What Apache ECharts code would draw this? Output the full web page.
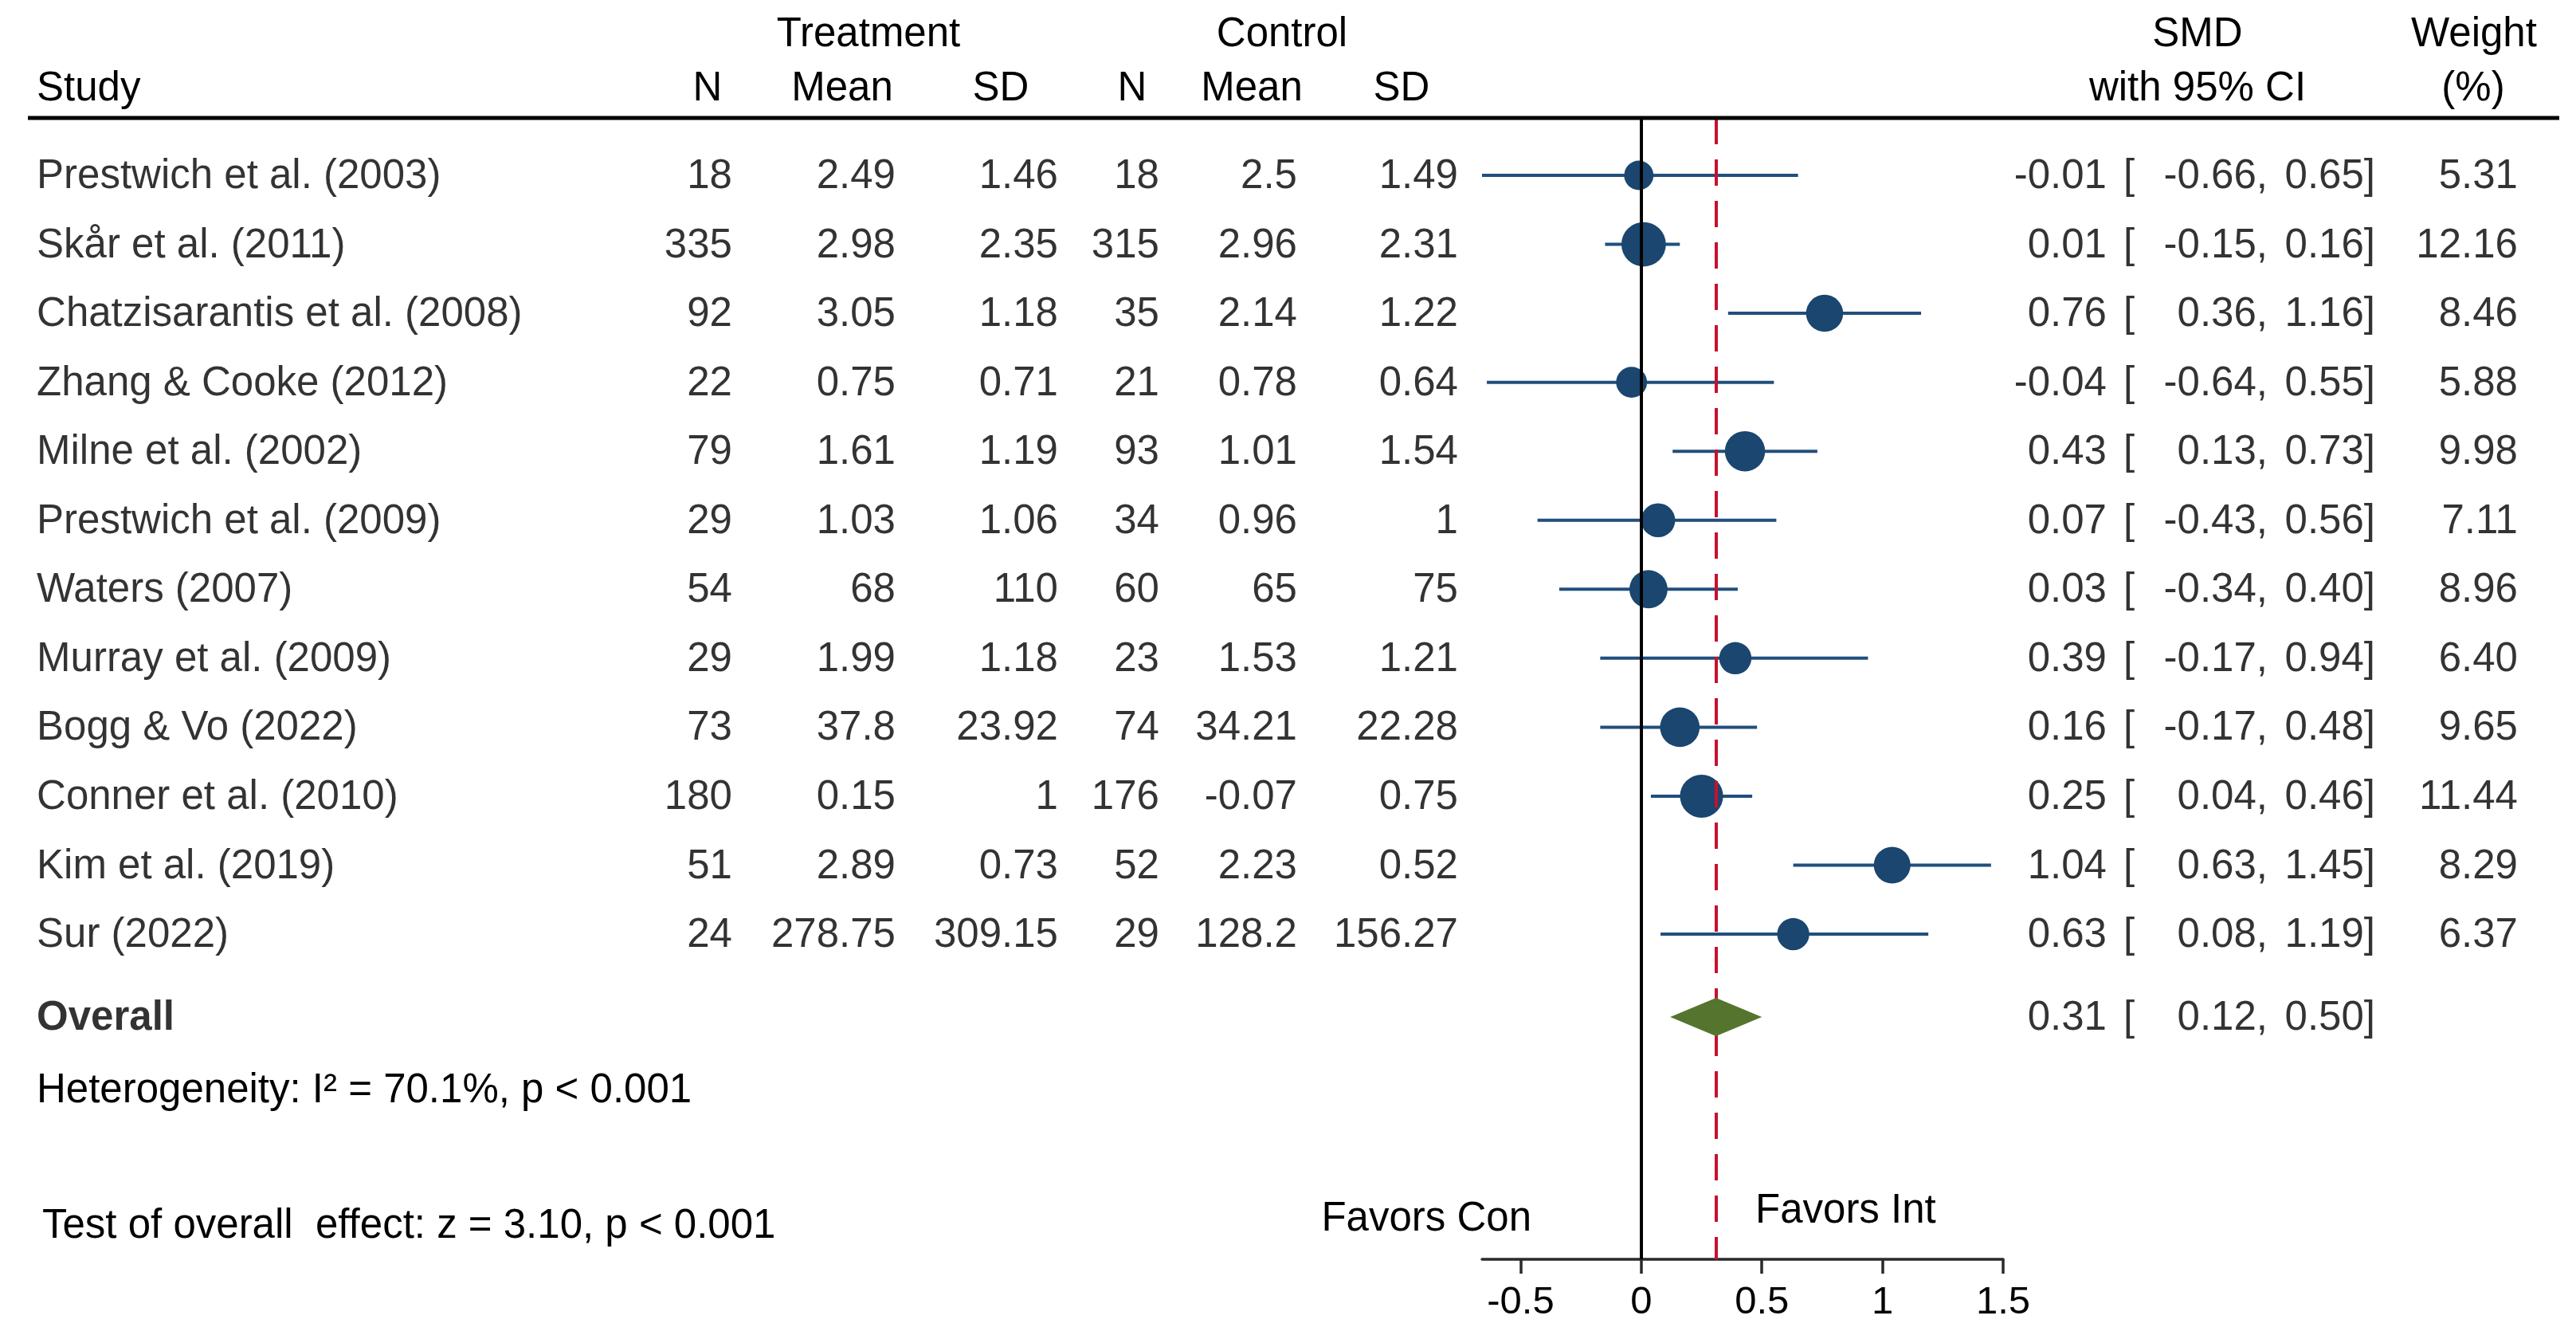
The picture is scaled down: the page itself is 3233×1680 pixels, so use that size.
<!DOCTYPE html>
<html>
<head>
<meta charset="utf-8">
<script src="https://cdn.jsdelivr.net/npm/echarts@6/dist/echarts.min.js"></script>
<style>
html,body{margin:0;padding:0;background:#fff;}
#chart{width:3233px;height:1680px;}
</style>
</head>
<body>
<div id="chart"></div>
<script>
// ---------------- DATA ----------------
const studies = ["Prestwich et al. (2003)", "Skår et al. (2011)", "Chatzisarantis et al. (2008)", "Zhang & Cooke (2012)",
  "Milne et al. (2002)", "Prestwich et al. (2009)", "Waters (2007)", "Murray et al. (2009)", "Bogg & Vo (2022)",
  "Conner et al. (2010)", "Kim et al. (2019)", "Sur (2022)"];
const tN    = [18, 335, 92, 22, 79, 29, 54, 29, 73, 180, 51, 24];
const tMean = [2.49, 2.98, 3.05, 0.75, 1.61, 1.03, 68, 1.99, 37.8, 0.15, 2.89, 278.75];
const tSD   = [1.46, 2.35, 1.18, 0.71, 1.19, 1.06, 110, 1.18, 23.92, 1, 0.73, 309.15];
const cN    = [18, 315, 35, 21, 93, 34, 60, 23, 74, 176, 52, 29];
const cMean = [2.5, 2.96, 2.14, 0.78, 1.01, 0.96, 65, 1.53, 34.21, -0.07, 2.23, 128.2];
const cSD   = [1.49, 2.31, 1.22, 0.64, 1.54, 1, 75, 1.21, 22.28, 0.75, 0.52, 156.27];
const smd    = [-0.01, 0.01, 0.76, -0.04, 0.43, 0.07, 0.03, 0.39, 0.16, 0.25, 1.04, 0.63];
const ciLow  = [-0.66, -0.15, 0.36, -0.64, 0.13, -0.43, -0.34, -0.17, -0.17, 0.04, 0.63, 0.08];
const ciHigh = [0.65, 0.16, 1.16, 0.55, 0.73, 0.56, 0.40, 0.94, 0.48, 0.46, 1.45, 1.19];
const weight = [5.31, 12.16, 8.46, 5.88, 9.98, 7.11, 8.96, 6.40, 9.65, 11.44, 8.29, 6.37];
const overallEffect = [0.31, 0.12, 0.50];   // SMD, lower, upper
const xTicks = [-0.5, 0, 0.5, 1, 1.5];
const xRange = [-0.66, 1.5];
const headerTop = ["Treatment", "Control", "SMD", "Weight"];
const headerBottom = ["Study", "N", "Mean", "SD", "N", "Mean", "SD", "with 95% CI", "(%)"];
const heterogeneityText = "Heterogeneity: I\u00B2 = 70.1%, p < 0.001";
const overallTestText = "Test of overall  effect: z = 3.10, p < 0.001";
const favorLabels = ["Favors Con", "Favors Int"];
const overallLabel = "Overall";

// ---------------- LAYOUT ----------------
const FONT = "'Liberation Sans', Arial, Helvetica, sans-serif";
const FS = 51;
const TY = 2; // small vertical nudge for text
const W = 3233, H = 1680;
const gridTop = 148, gridBottomY = 1580;
const rowY0 = 220, rowStep = 86.55;
const yMin = (gridTop - rowY0) / rowStep, yMax = (gridBottomY - rowY0) / rowStep;
const overallRow = 12.2;
const plotLeft = 1860, plotRight = 2514;
const cols = { study: 46, tN: 919, tMean: 1124, tSD: 1328, cN: 1455, cMean: 1628, cSD: 1830,
  es: 2644, br: 2665, lo: 2846, hi: 2981, wt: 3160 };
const NAVY = '#1a466f', LINEBLUE = '#214f7d', GREEN = '#55752f', RED = '#c8102e';

const chart = echarts.init(document.getElementById('chart'), null, { renderer: 'canvas', width: W, height: H });

function textSeries(xCol, texts, rows, side, bold) {
  return {
    type: 'scatter', xAxisIndex: 1, yAxisIndex: 1, silent: true, symbolSize: 0.1,
    itemStyle: { color: 'transparent' }, z: 10,
    data: texts.map((t, k) => ({ value: [xCol, rows[k]], txt: t })),
    label: {
      show: true, position: side, distance: 0, offset: [0, TY], color: '#000', fontSize: FS, fontFamily: FONT,
      fontWeight: bold ? 'bold' : 'normal', verticalAlign: 'middle',
      formatter: p => p.data.txt
    }
  };
}
const rowIdx = studies.map((_, i) => i);
const f2 = v => v.toFixed(2);
const str = v => String(v);

const series = [];
// table text columns
series.push(textSeries(cols.study, studies.concat([overallLabel]), rowIdx.concat([overallRow]), 'right', false));
series[0].data[studies.length].label = { fontWeight: 'bold' };
series.push(textSeries(cols.tN, tN.map(str), rowIdx, 'left'));
series.push(textSeries(cols.tMean, tMean.map(str), rowIdx, 'left'));
series.push(textSeries(cols.tSD, tSD.map(str), rowIdx, 'left'));
series.push(textSeries(cols.cN, cN.map(str), rowIdx, 'left'));
series.push(textSeries(cols.cMean, cMean.map(str), rowIdx, 'left'));
series.push(textSeries(cols.cSD, cSD.map(str), rowIdx, 'left'));
const rowsAll = rowIdx.concat([overallRow]);
series.push(textSeries(cols.es, smd.concat([overallEffect[0]]).map(f2), rowsAll, 'left'));
series.push(textSeries(cols.br, rowsAll.map(() => '['), rowsAll, 'right'));
series.push(textSeries(cols.lo, ciLow.concat([overallEffect[1]]).map(v => f2(v) + ','), rowsAll, 'left'));
series.push(textSeries(cols.hi, ciHigh.concat([overallEffect[2]]).map(v => f2(v) + ']'), rowsAll, 'left'));
series.push(textSeries(cols.wt, weight.map(f2), rowIdx, 'left'));

// zero line
series.push({
  type: 'scatter', xAxisIndex: 0, yAxisIndex: 0, data: [], z: 1, silent: true,
  markLine: { silent: true, symbol: 'none', animation: false, label: { show: false },
    lineStyle: { color: '#000', width: 4, type: 'solid' }, data: [{ xAxis: 0 }] }
});
// CI lines
series.push({
  type: 'custom', xAxisIndex: 0, yAxisIndex: 0, z: 2, silent: true,
  data: smd.map((v, i) => [v, i, ciLow[i], ciHigh[i]]),
  encode: { x: [2, 3], y: 1 },
  renderItem: (params, api) => {
    const y = api.value(1);
    const a = api.coord([api.value(2), y]);
    const b = api.coord([api.value(3), y]);
    return { type: 'line', shape: { x1: a[0], y1: a[1], x2: b[0], y2: b[1] },
      style: { stroke: LINEBLUE, lineWidth: 4 } };
  }
});
// overall effect dashed line
series.push({
  type: 'scatter', xAxisIndex: 0, yAxisIndex: 0, data: [], z: 3, silent: true,
  markLine: { silent: true, symbol: 'none', animation: false, label: { show: false },
    lineStyle: { color: RED, width: 4, type: [33, 19] }, data: [{ xAxis: overallEffect[0] }] }
});
// study markers
series.push({
  type: 'scatter', xAxisIndex: 0, yAxisIndex: 0, z: 4, silent: true,
  data: smd.map((v, i) => [v, i, weight[i]]),
  symbol: 'circle',
  symbolSize: v => 16 * Math.sqrt(v[2]),
  itemStyle: { color: NAVY, opacity: 1 }
});
// overall diamond
series.push({
  type: 'custom', xAxisIndex: 0, yAxisIndex: 0, z: 5, silent: true,
  data: [[overallEffect[0], overallRow, overallEffect[1], overallEffect[2]]],
  encode: { x: [2, 3], y: 1 },
  renderItem: (params, api) => {
    const y = api.value(1);
    const c = api.coord([api.value(0), y]);
    const l = api.coord([api.value(2), y]);
    const r = api.coord([api.value(3), y]);
    const h = 24;
    return { type: 'polygon', shape: { points: [[l[0], c[1]], [c[0], c[1] - h], [r[0], c[1]], [c[0], c[1] + h]] },
      style: { fill: GREEN } };
  }
});

// graphic texts
const g = [];
function txt(x, y, text, align) {
  g.push({ type: 'text', x: x, y: y + TY, silent: true, z: 100,
    style: { text: text, fill: '#000', font: FS + 'px ' + FONT, textAlign: align, textVerticalAlign: 'middle' } });
}
txt(1090, 42, headerTop[0], 'center');
txt(1609, 42, headerTop[1], 'center');
txt(2758, 42, headerTop[2], 'center');
txt(3105, 42, headerTop[3], 'center');
txt(46, 110, headerBottom[0], 'left');
txt(888, 110, headerBottom[1], 'center');
txt(1057, 110, headerBottom[2], 'center');
txt(1256, 110, headerBottom[3], 'center');
txt(1421, 110, headerBottom[4], 'center');
txt(1571, 110, headerBottom[5], 'center');
txt(1759, 110, headerBottom[6], 'center');
txt(2758, 110, headerBottom[7], 'center');
txt(3104, 110, headerBottom[8], 'center');
txt(46, 1367, heterogeneityText, 'left');
txt(53, 1537, overallTestText, 'left');
txt(1922, 1528, favorLabels[0], 'right');
txt(2203, 1518, favorLabels[1], 'left');
g.push({ type: 'line', silent: true, z: 100, shape: { x1: 35, y1: gridTop, x2: 3212, y2: gridTop },
  style: { stroke: '#000', lineWidth: 5 } });

chart.setOption({
  animation: false,
  backgroundColor: '#fff',
  grid: [
    { left: plotLeft, width: plotRight - plotLeft, top: gridTop, height: gridBottomY - gridTop, containLabel: false },
    { left: 0, width: W, top: gridTop, height: gridBottomY - gridTop, containLabel: false }
  ],
  xAxis: [
    { type: 'value', gridIndex: 0, min: xRange[0], max: xRange[1], position: 'bottom',
      axisLine: { show: true, onZero: false, lineStyle: { color: '#2a2a2a', width: 3.5 } },
      axisTick: { show: true, length: 18, lineStyle: { color: '#2a2a2a', width: 3.5 }, customValues: xTicks },
      axisLabel: { show: true, customValues: xTicks, color: '#000', fontSize: 49, fontFamily: FONT, margin: 30 },
      splitLine: { show: false } },
    { type: 'value', gridIndex: 1, min: 0, max: W, show: false }
  ],
  yAxis: [
    { type: 'value', gridIndex: 0, inverse: true, min: yMin, max: yMax, show: false },
    { type: 'value', gridIndex: 1, inverse: true, min: yMin, max: yMax, show: false }
  ],
  series: series,
  graphic: g
});
</script>
</body>
</html>
